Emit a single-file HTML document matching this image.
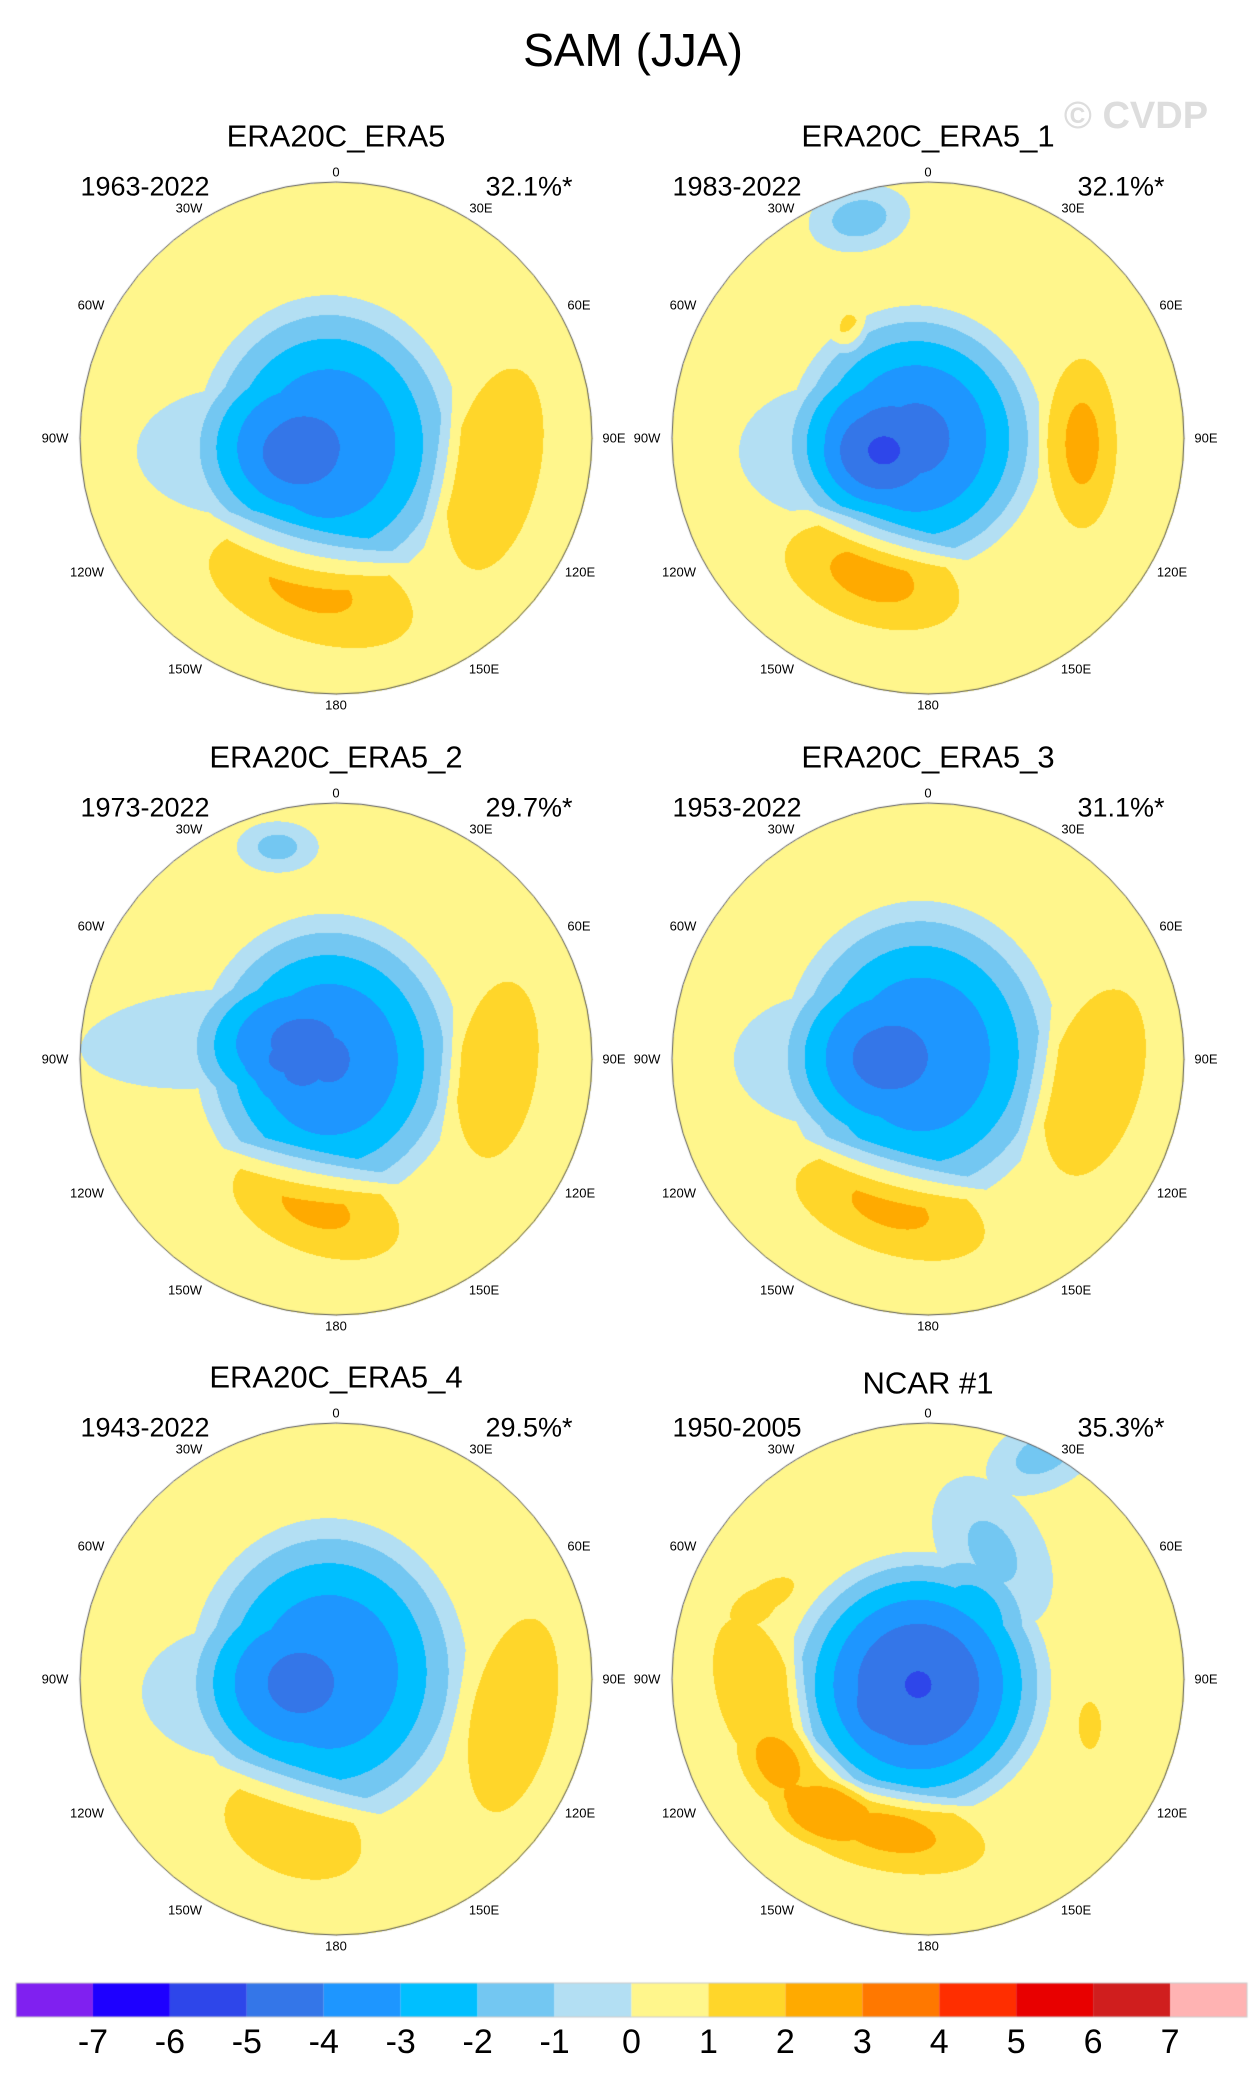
<!DOCTYPE html>
<html><head><meta charset="utf-8">
<style>
html,body{margin:0;padding:0;background:#fff;}
#wrap{position:relative;width:1258px;height:2086px;overflow:hidden;font-family:"Liberation Sans",sans-serif;color:#000;}
canvas{position:absolute;left:0;top:0;}
.t{position:absolute;transform:translate(-50%,-50%);white-space:nowrap;line-height:1;}
</style></head>
<body>
<div id="wrap">
<canvas id="cv" width="1258" height="2086"></canvas>
<div class="t" style="left:633px;top:50px;font-size:46px;">SAM (JJA)</div>
<div class="t" style="left:1136px;top:116px;font-size:38px;font-weight:bold;color:#ddd;">© CVDP</div>
</div>
<script>
const panelTitles=["ERA20C_ERA5","ERA20C_ERA5_1","ERA20C_ERA5_2","ERA20C_ERA5_3","ERA20C_ERA5_4","NCAR #1"];
const panelYears=["1963-2022","1983-2022","1973-2022","1953-2022","1943-2022","1950-2005"];
const panelPct=["32.1%*","32.1%*","29.7%*","31.1%*","29.5%*","35.3%*"];
// anomaly features per panel: [cx, cy, amplitude, sx, sy, rotDeg] (normalized polar-map coords)
const p1=[[-0.03,0.02,-4.0,0.52,0.58,0],[-0.155,0.07,-0.5,0.16,0.13,0],[-0.38,0.05,-0.9,0.4,0.25,0],[0.62,0.12,1.8,0.26,0.6,12],[-0.1,0.59,2.2,0.56,0.27,18]];
const p2=[[-0.05,0.0,-4.3,0.5,0.52,0],[-0.22,0.08,-0.6,0.2,0.17,0],[-0.38,0.05,-0.9,0.36,0.26,0],[-0.27,-0.86,-1.4,0.2,0.13,-10],[-0.31,-0.43,1.3,0.075,0.11,0],[0.6,0.02,2.3,0.18,0.44,0],[-0.22,0.54,2.3,0.47,0.25,18]];
const p3=[[-0.03,0.0,-4.1,0.52,0.57,0],[-0.22,0.06,-0.4,0.15,0.1,0],[-0.5,-0.08,-1.0,0.5,0.19,-5],[-0.23,-0.83,-1.3,0.16,0.1,0],[0.63,0.04,1.8,0.23,0.52,8],[-0.08,0.58,2.2,0.46,0.24,20]];
const p4=[[-0.03,-0.02,-4.0,0.54,0.6,0],[-0.38,0.0,-0.9,0.38,0.26,0],[-0.18,0.0,-0.3,0.15,0.12,0],[0.65,0.09,1.8,0.27,0.56,15],[-0.15,0.58,2.2,0.52,0.24,18]];
const p5=[[-0.03,-0.03,-4.0,0.54,0.6,0],[-0.38,0.05,-0.9,0.38,0.26,0],[0.69,0.14,1.7,0.25,0.6,12],[-0.17,0.59,1.8,0.42,0.26,22]];
const p6=[[-0.04,0.02,-5.05,0.52,0.52,0],[-0.2,0.12,-0.4,0.1,0.1,0],[0.25,-0.5,-1.2,0.2,0.32,-30],[0.45,-0.88,-1.3,0.24,0.14,-25],[-0.68,0.05,1.8,0.22,0.45,-15],[-0.5,0.42,1.7,0.3,0.2,35],[-0.15,0.6,2.3,0.5,0.2,10],[-0.62,-0.33,1.5,0.18,0.09,-30],[0.63,0.18,1.3,0.09,0.19,0]];
const panelFeatures=[p1,p2,p3,p4,p5,p6];
const levels=[-7,-6,-5,-4,-3,-2,-1,0,1,2,3,4,5,6,7];
const levelColors=["#8020F0","#1E00FF","#2E46EA","#3476E8","#1E96FF","#00BFFF","#73C7F2","#B3DFF3","#FFF68C","#FFD62A","#FFAA00","#FF7800","#FF2E00","#E80000","#D01E1E","#FFB3B3"];
const lonLabels=["0","30E","60E","90E","120E","150E","180","150W","120W","90W","60W","30W"];
const lonOffsets=[[0,-266],[145,-230],[243,-133],[278,0],[244,134],[148,231],[0,267],[-151,231],[-249,134],[-281,0],[-245,-133],[-147,-230]];

const wrap=document.getElementById('wrap');
const cv=document.getElementById('cv');
const ctx=cv.getContext('2d');
const R=256;
const colX=[336,928];
const rowY=[438,1059,1679];
function hex(c){return [parseInt(c.slice(1,3),16),parseInt(c.slice(3,5),16),parseInt(c.slice(5,7),16)];}
const rgb=levelColors.map(hex);
function colorIndex(v){let i=0;while(i<levels.length&&v>=levels[i])i++;return i;}
function field(feats,u,v){
  let s=0;
  for(const f of feats){
    const a=f[5]*Math.PI/180,dx=u-f[0],dy=v-f[1];
    const x=dx*Math.cos(a)+dy*Math.sin(a),y=-dx*Math.sin(a)+dy*Math.cos(a);
    const q=(x*x)/(f[3]*f[3])+(y*y)/(f[4]*f[4]);
    if(q<1){s+=f[2]*(1-q);}
  }
  return s;
}
function addText(txt,x,y,size,name){
  const d=document.createElement('div');
  d.className='t';
  d.style.left=x+'px';d.style.top=y+'px';d.style.fontSize=size+'px';
  d.textContent=txt;
  
  
  wrap.appendChild(d);
}
const img=ctx.createImageData(1258,2086);
for(let k=0;k<6;k++){
  const cx=colX[k%2],cy=rowY[Math.floor(k/2)];
  const feats=panelFeatures[k];
  for(let py=cy-R;py<=cy+R;py++){
    for(let px=cx-R;px<=cx+R;px++){
      const u=(px-cx)/R,v=(py-cy)/R;
      if(u*u+v*v>1)continue;
      const val=field(feats,u,v);
      const c=rgb[colorIndex(val)];
      const o=(py*1258+px)*4;
      img.data[o]=c[0];img.data[o+1]=c[1];img.data[o+2]=c[2];img.data[o+3]=255;
    }
  }
}
ctx.putImageData(img,0,0);
const cbX0=16,cbX1=1247,cbY0=1983,cbY1=2017,nb=levelColors.length,bw=(cbX1-cbX0)/nb;
for(let i=0;i<nb;i++){
  ctx.fillStyle=levelColors[i];
  ctx.fillRect(cbX0+i*bw,cbY0,bw,cbY1-cbY0);
}
ctx.strokeStyle='#ccc';ctx.lineWidth=1;
ctx.strokeRect(cbX0,cbY0,cbX1-cbX0,cbY1-cbY0);
for(let i=0;i<levels.length;i++){
  addText(String(levels[i]),cbX0+(i+1)*bw,2042,34,'colorbar-label');
}
for(let k=0;k<6;k++){
  const cx=colX[k%2],cy=rowY[Math.floor(k/2)];
  ctx.beginPath();ctx.arc(cx,cy,R,0,Math.PI*2);ctx.strokeStyle='#555';ctx.lineWidth=1;ctx.stroke();
  addText(panelTitles[k],cx,cy-302+(k===5?6:0),31,'panel-title');
  addText(panelYears[k],cx-191,cy-251,27,'panel-years');
  addText(panelPct[k],cx+193,cy-251,27,'panel-variance');
  for(let j=0;j<lonLabels.length;j++){
    addText(lonLabels[j],cx+lonOffsets[j][0],cy+lonOffsets[j][1],13,'longitude-label');
  }
}
</script>
</body></html>
